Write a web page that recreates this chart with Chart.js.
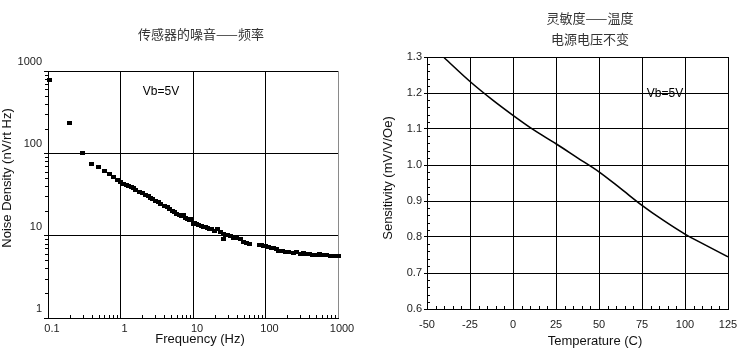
<!DOCTYPE html>
<html>
<head>
<meta charset="utf-8">
<script src="https://cdn.jsdelivr.net/npm/chart.js@4"></script>
<style>
  html, body { margin: 0; padding: 0; background: #fff; }
  #wrap { position: relative; width: 754px; height: 363px; }
  .box { position: absolute; top: 0; width: 377px; height: 363px; }
</style>
</head>
<body>
<div id="wrap">
  <div class="box" style="left:0"><canvas id="noise"></canvas></div>
  <div class="box" style="left:377px"><canvas id="sens"></canvas></div>
</div>
<script>
// noise density vs frequency
const freqHz = [
  0.105, 0.2, 0.3, 0.4, 0.5, 0.6, 0.7, 0.8, 0.9,
  1.0, 1.1, 1.2, 1.3, 1.4, 1.5, 1.6, 1.8, 2.0, 2.2, 2.4, 2.6, 2.8, 3.0, 3.3, 3.6, 4.0, 4.4, 4.8, 5.2, 5.6, 6.0, 6.5, 7.0, 7.5, 8.0, 8.5, 9.0, 9.5,
  10, 10.5, 11, 12, 13, 14, 15, 16, 17, 18, 20, 22, 24, 26, 26.5, 28, 30, 33, 36, 40, 45, 50, 55, 60,
  82, 88, 95, 100, 110, 120, 130, 140, 150, 170, 190, 210, 240, 270, 300, 330, 360, 400, 450, 500, 550, 600, 650, 700, 800, 900, 1000, 1100, 1250
];
const noiseDensity = [
  770, 232, 100, 75, 68, 61, 56, 51, 48,
  45, 43, 41, 40, 39, 38, 36, 34, 33, 31.5, 30, 28.5, 27.5, 26.5, 25.5, 24.5, 23, 22, 21, 20, 19.2, 18.5, 18, 17.5, 18, 16.5, 16, 15.5, 16,
  14, 14.2, 13.8, 13.5, 13.2, 12.6, 12.8, 12.3, 12, 12.2, 11.5, 12, 11, 10.6, 9.1, 10.2, 10.3, 9.8, 9.5, 9.3, 9.1, 8.4, 8.1, 8.0,
  7.8, 7.6, 7.5, 7.4, 7.3, 7.1, 7.0, 6.9, 6.6, 6.6, 6.4, 6.3, 6.2, 6.3, 6.0, 6.1, 6.0, 6.05, 5.9, 5.9, 5.95, 5.8, 5.75, 5.8, 5.6, 5.7, 5.6, 5.55, 5.6
];
const freqTicks = [0.1, 1, 10, 100, 1000];
const noiseTicks = [1, 10, 100, 1000];

// sensitivity vs temperature
const tempC = [-40, -25, -12.5, 0, 12.5, 25, 37.5, 50, 62.5, 75, 87.5, 100, 112.5, 125];
const sensitivity = [1.298, 1.232, 1.183, 1.138, 1.096, 1.059, 1.02, 0.981, 0.935, 0.888, 0.846, 0.808, 0.776, 0.745];

const LATIN = '"Liberation Sans", Arial, sans-serif';
const CJK = '"Noto Sans CJK SC", sans-serif';

// small black dash used as the scatter marker
const dash = document.createElement('canvas');
dash.width = 5;
dash.height = 4;
const dctx = dash.getContext('2d');
dctx.fillStyle = '#000';
dctx.fillRect(0, 0, 5, 4);

// minor ticks + free text
const decor = {
  id: 'decor',
  afterDraw(chart, args, opts) {
    const ctx = chart.ctx;
    const a = chart.chartArea;
    ctx.save();
    ctx.strokeStyle = '#000';
    ctx.lineWidth = 1;
    for (const m of opts.minor || []) {
      const s = chart.scales[m.axis];
      ctx.beginPath();
      for (const v of m.values) {
        const p = Math.round(s.getPixelForValue(v)) + 0.5;
        if (m.axis === 'x') {
          ctx.moveTo(p, a.bottom);
          ctx.lineTo(p, m.dir === 'in' ? a.bottom - m.len : a.bottom + m.len);
        } else {
          ctx.moveTo(a.left, p);
          ctx.lineTo(m.dir === 'in' ? a.left + m.len : a.left - m.len, p);
        }
      }
      ctx.stroke();
    }
    ctx.textAlign = 'center';
    ctx.textBaseline = 'middle';
    for (const t of opts.texts || []) {
      ctx.save();
      ctx.font = t.font;
      ctx.fillStyle = t.color || '#000';
      ctx.translate(t.x, t.y);
      if (t.rotate) ctx.rotate(t.rotate);
      ctx.fillText(t.text, 0, 0);
      ctx.restore();
    }
    ctx.restore();
  }
};

const logMinor = [];
for (const d of [0.1, 1, 10, 100]) for (let k = 2; k <= 9; k++) logMinor.push(d * k);
const logMinorY = logMinor.filter(v => v > 1);

new Chart(document.getElementById('noise'), {
  type: 'scatter',
  data: {
    datasets: [{
      data: freqHz.map((f, i) => ({ x: f, y: noiseDensity[i] })),
      pointStyle: dash,
      pointRadius: 3,
      backgroundColor: '#000',
      borderColor: '#000',
      clip: false
    }]
  },
  options: {
    responsive: true,
    maintainAspectRatio: false,
    animation: false,
    events: [],
    layout: { padding: { left: 0, top: 71, right: 39, bottom: 0 } },
    plugins: {
      legend: { display: false },
      tooltip: { enabled: false },
      decor: {
        minor: [
          { axis: 'x', values: logMinor, dir: 'in', len: 3 },
          { axis: 'y', values: logMinorY, dir: 'out', len: 3 }
        ],
        texts: [
          { text: '传感器的噪音——频率', x: 201, y: 34, font: '13px ' + CJK, color: '#333' },
          { text: 'Vb=5V', x: 161, y: 92, font: '12px ' + LATIN },
          { text: 'Frequency (Hz)', x: 200, y: 339, font: '13px ' + LATIN, color: '#111' },
          { text: 'Noise Density (nV/rt Hz)', x: 7, y: 178, font: '13px ' + LATIN, color: '#111', rotate: -Math.PI / 2 }
        ]
      }
    },
    scales: {
      x: {
        type: 'logarithmic',
        min: 0.1,
        max: 1000,
        afterBuildTicks: s => { s.ticks = freqTicks.map(v => ({ value: v })); },
        afterFit: s => { s.height = 45; },
        grid: {
          color: c => (c.tick && c.tick.value === 1000 ? '#8a8a8a' : '#000'),
          drawTicks: false
        },
        border: { color: '#000' },
        ticks: {
          padding: 4,
          labelOffset: 4,
          autoSkip: false,
          maxRotation: 0,
          color: '#222',
          font: { family: LATIN, size: 11 },
          callback: v => String(v)
        }
      },
      y: {
        type: 'logarithmic',
        min: 1,
        max: 1000,
        afterBuildTicks: s => { s.ticks = noiseTicks.map(v => ({ value: v })); },
        afterFit: s => { s.width = 48; },
        grid: { color: '#000', tickLength: 4 },
        border: { color: '#000' },
        ticks: {
          padding: 2,
          labelOffset: -9,
          autoSkip: false,
          color: '#222',
          font: { family: LATIN, size: 11 },
          callback: v => String(v)
        }
      }
    }
  },
  plugins: [decor]
});

const tempMinor = [];
for (let t = -45; t < 125; t += 5) if (t % 25 !== 0) tempMinor.push(t);
const sensMinor = [];
for (let i = 0; i < 35; i++) if (i % 5 !== 0) sensMinor.push(0.6 + i * 0.02);

new Chart(document.getElementById('sens'), {
  type: 'scatter',
  data: {
    datasets: [{
      data: tempC.map((t, i) => ({ x: t, y: sensitivity[i] })),
      showLine: true,
      pointRadius: 0,
      borderColor: '#000',
      borderWidth: 1.6,
      cubicInterpolationMode: 'monotone'
    }]
  },
  options: {
    responsive: true,
    maintainAspectRatio: false,
    animation: false,
    events: [],
    layout: { padding: { left: 0, top: 57, right: 26, bottom: 0 } },
    plugins: {
      legend: { display: false },
      tooltip: { enabled: false },
      decor: {
        minor: [
          { axis: 'x', values: tempMinor, dir: 'in', len: 3 },
          { axis: 'y', values: sensMinor, dir: 'in', len: 3 }
        ],
        texts: [
          { text: '灵敏度——温度', x: 213, y: 18, font: '13px ' + CJK, color: '#333' },
          { text: '电源电压不变', x: 213, y: 39, font: '13px ' + CJK, color: '#333' },
          { text: 'Vb=5V', x: 288, y: 94, font: '12px ' + LATIN },
          { text: 'Temperature (C)', x: 218, y: 341, font: '13px ' + LATIN, color: '#111' },
          { text: 'Sensitivity (mV/V/Oe)', x: 11, y: 178, font: '13px ' + LATIN, color: '#111', rotate: -Math.PI / 2 }
        ]
      }
    },
    scales: {
      x: {
        type: 'linear',
        min: -50,
        max: 125,
        afterFit: s => { s.height = 54; },
        grid: { color: '#000', drawTicks: false },
        border: { color: '#000' },
        ticks: {
          stepSize: 25,
          padding: 9,
          autoSkip: false,
          maxRotation: 0,
          color: '#222',
          font: { family: LATIN, size: 11 }
        }
      },
      y: {
        type: 'linear',
        min: 0.6,
        max: 1.3,
        afterFit: s => { s.width = 50; },
        grid: { color: '#000', tickLength: 3 },
        border: { color: '#000' },
        ticks: {
          stepSize: 0.1,
          padding: 2,
          autoSkip: false,
          color: '#222',
          font: { family: LATIN, size: 11 }
        }
      }
    }
  },
  plugins: [decor]
});
</script>
</body>
</html>
